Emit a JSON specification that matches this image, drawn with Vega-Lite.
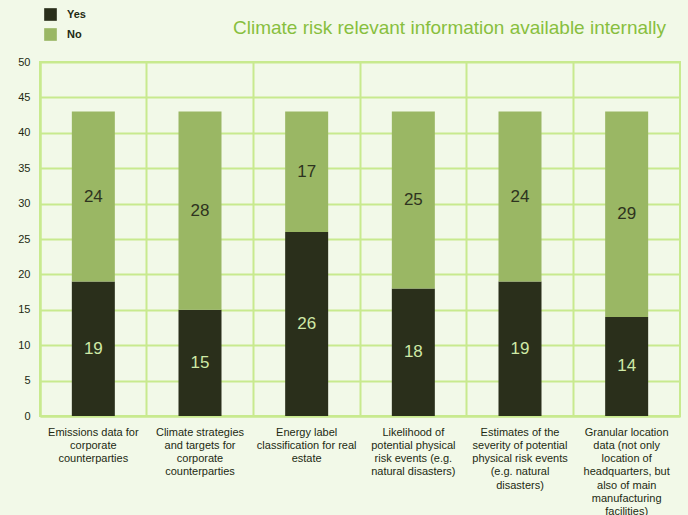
{
  "$schema": "https://vega.github.io/schema/vega-lite/v6.json",
  "autosize": {"type": "none"},
  "width": 640,
  "height": 354,
  "padding": {"left": 40, "top": 62, "right": 8, "bottom": 99},
  "background": "#f2f9e8",
  "title": {
    "text": "Climate risk relevant information available internally",
    "anchor": "end",
    "dx": -14,
    "offset": -30,
    "fontSize": 19,
    "fontWeight": "normal",
    "font": "Liberation Sans",
    "color": "#88bf3e"
  },
  "data": {
    "values": [
      {"question": "Emissions data for|corporate|counterparties", "answer": "Yes", "count": 19},
      {"question": "Emissions data for|corporate|counterparties", "answer": "No", "count": 24},
      {"question": "Climate strategies|and targets for|corporate|counterparties", "answer": "Yes", "count": 15},
      {"question": "Climate strategies|and targets for|corporate|counterparties", "answer": "No", "count": 28},
      {"question": "Energy label|classification for real|estate", "answer": "Yes", "count": 26},
      {"question": "Energy label|classification for real|estate", "answer": "No", "count": 17},
      {"question": "Likelihood of|potential physical|risk events (e.g.|natural disasters)", "answer": "Yes", "count": 18},
      {"question": "Likelihood of|potential physical|risk events (e.g.|natural disasters)", "answer": "No", "count": 25},
      {"question": "Estimates of the|severity of potential|physical risk events|(e.g. natural|disasters)", "answer": "Yes", "count": 19},
      {"question": "Estimates of the|severity of potential|physical risk events|(e.g. natural|disasters)", "answer": "No", "count": 24},
      {"question": "Granular location|data (not only|location of|headquarters, but|also of main|manufacturing|facilities)", "answer": "Yes", "count": 14},
      {"question": "Granular location|data (not only|location of|headquarters, but|also of main|manufacturing|facilities)", "answer": "No", "count": 29}
    ]
  },
  "encoding": {
    "x": {
      "field": "question",
      "type": "nominal",
      "sort": null,
      "scale": {"paddingInner": 0, "paddingOuter": 0},
      "axis": {
        "title": null,
        "labelAngle": 0,
        "labelExpr": "split(datum.label, '|')",
        "labelBaseline": "top",
        "labelPadding": 10,
        "labelLineHeight": 13.3,
        "labelFontSize": 11,
        "labelFont": "Liberation Sans",
        "labelColor": "#232a12",
        "labelLimit": 0,
        "ticks": false,
        "grid": true,
        "bandPosition": 0,
        "gridColor": "#c8ea8e",
        "gridWidth": 2,
        "gridOpacity": 1,
        "domainColor": "#c8ea8e",
        "domainWidth": 2
      }
    },
    "y": {
      "field": "count",
      "type": "quantitative",
      "stack": "zero",
      "scale": {"domain": [0, 50]},
      "axis": {
        "title": null,
        "values": [0, 5, 10, 15, 20, 25, 30, 35, 40, 45, 50],
        "ticks": false,
        "labelPadding": 10,
        "labelFontSize": 11,
        "labelFont": "Liberation Sans",
        "labelColor": "#232a12",
        "gridColor": "#c8ea8e",
        "gridWidth": 2,
        "gridOpacity": 1,
        "domainColor": "#c8ea8e",
        "domainWidth": 2
      }
    }
  },
  "layer": [
    {
      "mark": {"type": "bar", "size": 43},
      "encoding": {
        "color": {
          "field": "answer",
          "type": "nominal",
          "sort": ["Yes", "No"],
          "scale": {"domain": ["Yes", "No"], "range": ["#2a2f1b", "#9ab764"]},
          "legend": {
            "title": null,
            "orient": "none",
            "legendX": 4,
            "legendY": -54,
            "symbolType": "square",
            "symbolSize": 160,
            "symbolStrokeWidth": 0,
            "symbolOpacity": 1,
            "rowPadding": 7,
            "labelFontSize": 11,
            "labelFont": "Liberation Sans",
            "labelFontWeight": "bold",
            "labelColor": "#232a12",
            "labelOffset": 10
          }
        },
        "order": {"field": "answer", "sort": "descending"}
      }
    },
    {
      "mark": {"type": "text", "fontSize": 17, "font": "Liberation Sans", "baseline": "middle"},
      "encoding": {
        "y": {"field": "count", "type": "quantitative", "stack": "zero", "bandPosition": 0.5},
        "text": {"field": "count", "type": "quantitative"},
        "order": {"field": "answer", "sort": "descending"},
        "color": {
          "condition": {"test": "datum.answer === 'Yes'", "value": "#cfe9a6"},
          "value": "#2e3320"
        }
      }
    }
  ],
  "config": {
    "view": {"stroke": "#c8ea8e", "strokeWidth": 2}
  }
}
